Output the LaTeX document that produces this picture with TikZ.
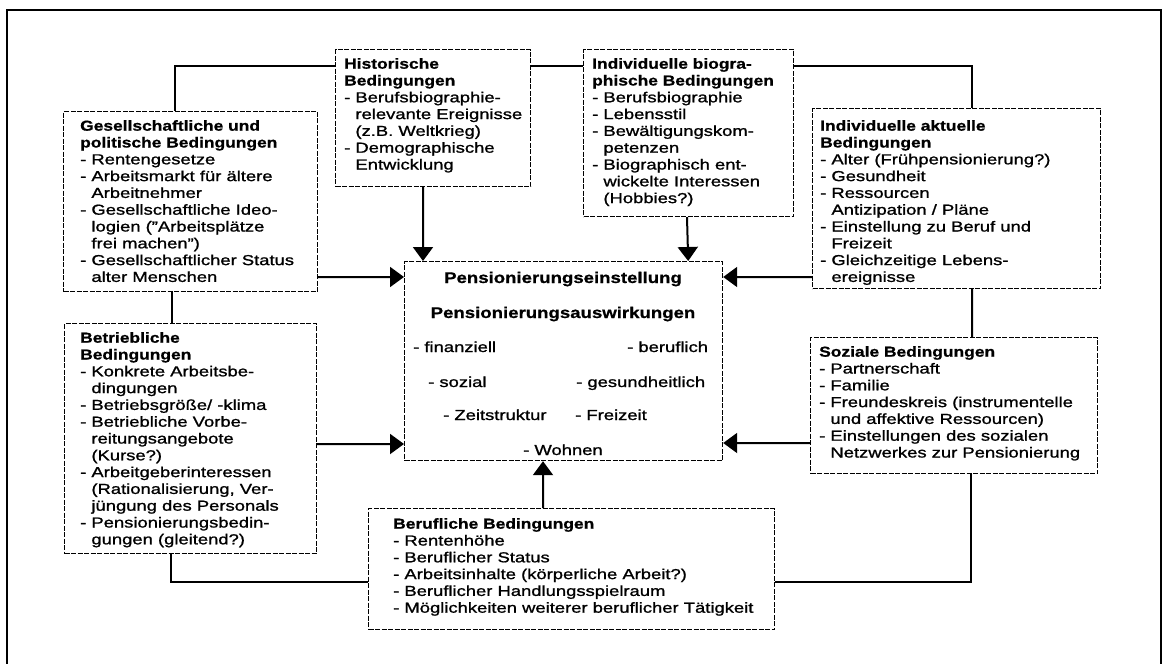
\documentclass[tikz,border=0pt]{standalone}
\usepackage{fontspec}
\setmainfont{Liberation Sans}[UprightFeatures={FakeStretch=1.27,FakeBold=1.2},BoldFeatures={FakeStretch=1.2,FakeBold=0.8}]
\usetikzlibrary{arrows.meta}
\newcommand{\ein}{\hphantom{- }}

\begin{document}
\begin{tikzpicture}[
    x=1bp, y=-1bp,
    feld/.style={
        draw, dash pattern=on 5bp off 1.5bp, line width=1.2bp,
        anchor=north west, inner sep=0pt
    },
    txt/.style={
        align=left, inner sep=0pt, anchor=north west,
        font=\fontsize{14.5bp}{16.8bp}\selectfont
    },
    mitte/.style={
        inner sep=0pt, anchor=base west,
        font=\fontsize{14.5bp}{16.8bp}\selectfont
    },
    kopf/.style={
        inner sep=0pt, anchor=base,
        font=\bfseries\fontsize{15.5bp}{18bp}\selectfont
    },
    linie/.style={line width=2bp},
    pfeil/.style={linie, -{Triangle[length=14bp,width=20bp]}}
]
    \useasboundingbox (0,0) rectangle (1164,664);
    \draw[line width=2bp] (7,664) -- (7,10) -- (1161,10) -- (1161,664);

    % Felder
    \node[feld, minimum width=195bp, minimum height=137bp] (hist) at (335,49) {};
    \node[feld, minimum width=210bp, minimum height=167bp] (biog) at (583,49) {};
    \node[feld, minimum width=254bp, minimum height=180bp] (gesell) at (63,111) {};
    \node[feld, minimum width=288bp, minimum height=180bp] (aktuell) at (812,108) {};
    \node[feld, minimum width=252bp, minimum height=230bp] (betrieb) at (64,323) {};
    \node[feld, minimum width=287bp, minimum height=136bp] (sozial) at (810,337) {};
    \node[feld, minimum width=406bp, minimum height=121bp] (beruf) at (368,508) {};
    \node[feld, minimum width=318bp, minimum height=199bp] (pension) at (404,261) {};

    % Texte
    \node[txt] (histtext) at ([xshift=9bp,yshift=-9bp]hist.north west) {%
        \textbf{Historische}\\ \textbf{Bedingungen}\\
        - Berufsbiographie-\\ \ein relevante Ereignisse\\ \ein (z.B. Weltkrieg)\\
        - Demographische\\ \ein Entwicklung};
    \node[txt] (biogtext) at ([xshift=9bp,yshift=-9bp]biog.north west) {%
        \textbf{Individuelle biogra-}\\ \textbf{phische Bedingungen}\\
        - Berufsbiographie\\ - Lebensstil\\
        - Bewältigungskom-\\ \ein petenzen\\
        - Biographisch ent-\\ \ein wickelte Interessen\\ \ein (Hobbies?)};
    \node[txt] (geselltext) at ([xshift=17bp,yshift=-9bp]gesell.north west) {%
        \textbf{Gesellschaftliche und}\\ \textbf{politische Bedingungen}\\
        - Rentengesetze\\
        - Arbeitsmarkt für ältere\\ \ein Arbeitnehmer\\
        - Gesellschaftliche Ideo-\\ \ein logien ("Arbeitsplätze\\ \ein frei machen")\\
        - Gesellschaftlicher Status\\ \ein alter Menschen};
    \node[txt] (aktuelltext) at ([xshift=8bp,yshift=-12bp]aktuell.north west) {%
        \textbf{Individuelle aktuelle}\\ \textbf{Bedingungen}\\
        - Alter (Frühpensionierung?)\\ - Gesundheit\\
        - Ressourcen\\ \ein Antizipation / Pläne\\
        - Einstellung zu Beruf und\\ \ein Freizeit\\
        - Gleichzeitige Lebens-\\ \ein ereignisse};
    \node[txt] (betriebtext) at ([xshift=16bp,yshift=-9bp]betrieb.north west) {%
        \textbf{Betriebliche}\\ \textbf{Bedingungen}\\
        - Konkrete Arbeitsbe-\\ \ein dingungen\\
        - Betriebsgröße/ -klima\\
        - Betriebliche Vorbe-\\ \ein reitungsangebote\\ \ein (Kurse?)\\
        - Arbeitgeberinteressen\\ \ein (Rationalisierung, Ver-\\ \ein jüngung des Personals\\
        - Pensionierungsbedin-\\ \ein gungen (gleitend?)};
    \node[txt] (sozialtext) at ([xshift=9bp,yshift=-9bp]sozial.north west) {%
        \textbf{Soziale Bedingungen}\\
        - Partnerschaft\\ - Familie\\
        - Freundeskreis (instrumentelle\\ \ein und affektive Ressourcen)\\
        - Einstellungen des sozialen\\ \ein Netzwerkes zur Pensionierung};
    \node[txt] (beruftext) at ([xshift=25bp,yshift=-10bp]beruf.north west) {%
        \textbf{Berufliche Bedingungen}\\
        - Rentenhöhe\\ - Beruflicher Status\\
        - Arbeitsinhalte (körperliche Arbeit?)\\
        - Beruflicher Handlungsspielraum\\
        - Möglichkeiten weiterer beruflicher Tätigkeit};

    \node[kopf] (einst) at (563,283) {Pensionierungseinstellung};
    \node[kopf] (ausw) at (563,318) {Pensionierungsauswirkungen};
    \node[mitte] (finanz) at (413,352) {- finanziell};
    \node[mitte] (beruflich) at (627,352) {- beruflich};
    \node[mitte] (sozialw) at (428,387) {- sozial};
    \node[mitte] (gesund) at (576,387) {- gesundheitlich};
    \node[mitte] (zeit) at (443,420) {- Zeitstruktur};
    \node[mitte] (freizeit) at (575,420) {- Freizeit};
    \node[mitte] (wohnen) at (523,455) {- Wohnen};

    % Verbindungen
    \draw[linie] ([xshift=112bp]gesell.north west) |- ([yshift=-17bp]hist.north west);
    \draw[linie] ([yshift=-17bp]hist.north east) -- ([yshift=-17bp]biog.north west);
    \draw[linie] ([yshift=-17bp]biog.north east) -| ([xshift=160bp]aktuell.north west);
    \draw[linie] ([xshift=109bp]gesell.south west) -- ([xshift=108bp]betrieb.north west);
    \draw[linie] ([xshift=160bp]aktuell.south west) -- ([xshift=162bp]sozial.north west);
    \draw[linie] ([xshift=107bp]betrieb.south west) |- ([yshift=-74bp]beruf.north west);
    \draw[linie] ([yshift=-74bp]beruf.north east) -| ([xshift=161bp]sozial.south west);

    % Pfeile zur Mitte
    \draw[pfeil] ([xshift=88bp]hist.south west) -- ([xshift=19bp]pension.north west);
    \draw[pfeil] ([xshift=104bp]biog.south west) -- ([xshift=-35bp]pension.north east);
    \draw[pfeil] ([yshift=-166bp]gesell.north east) -- ([yshift=-16bp]pension.north west);
    \draw[pfeil] ([yshift=-121bp]betrieb.north east) -- ([yshift=-183bp]pension.north west);
    \draw[pfeil] ([yshift=-169bp]aktuell.north west) -- ([yshift=-16bp]pension.north east);
    \draw[pfeil] ([yshift=-106bp]sozial.north west) -- ([yshift=-182bp]pension.north east);
    \draw[pfeil] ([xshift=175bp]beruf.north west) -- ([xshift=139bp]pension.south west);
\end{tikzpicture}
\end{document}
